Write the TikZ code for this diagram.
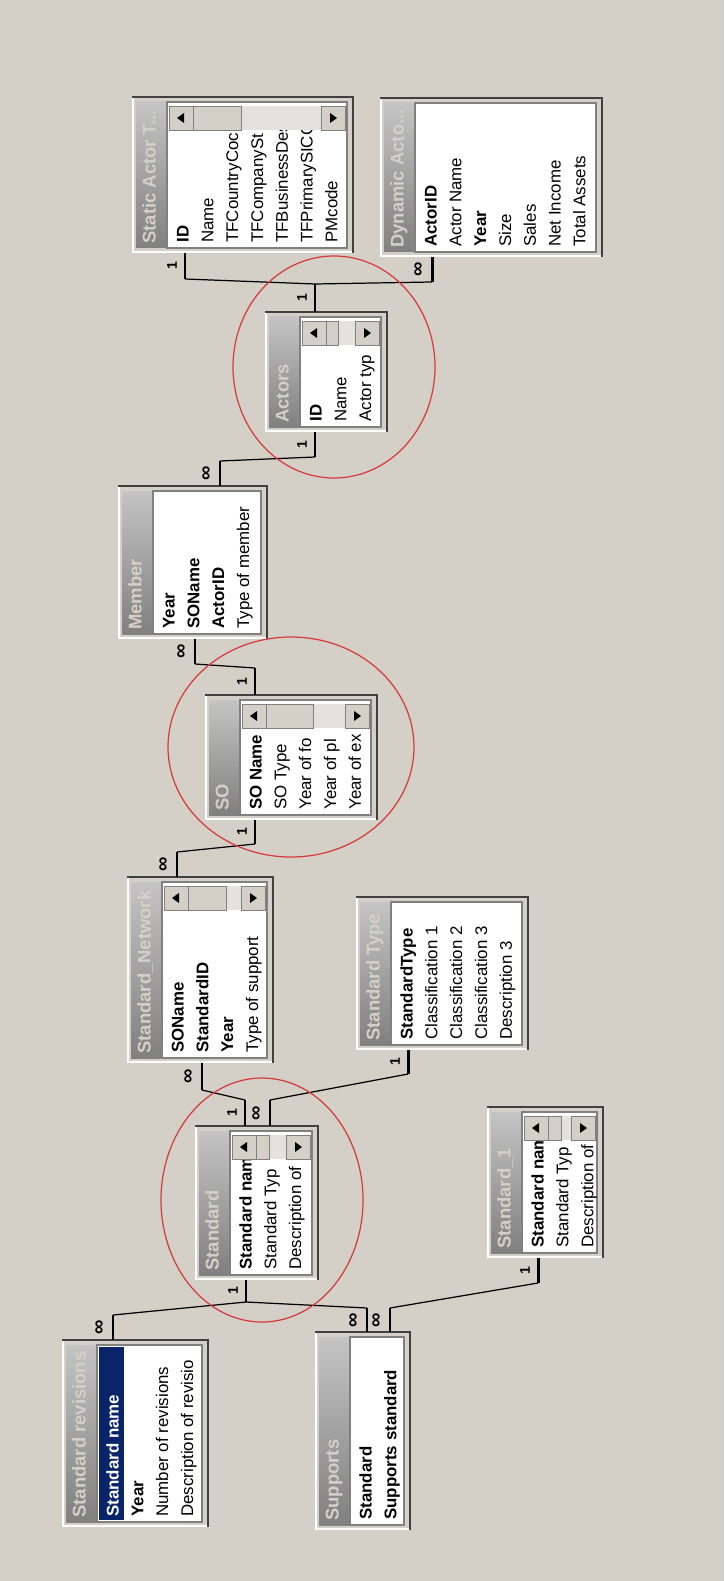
\documentclass[tikz,border=0pt]{standalone}
\usepackage{fontspec}
\setmainfont{Liberation Sans}
\usetikzlibrary{calc,fit}

\definecolor{winbg}{HTML}{D4D0C8}
\definecolor{windark}{HTML}{404040}
\definecolor{wingray}{HTML}{808080}
\definecolor{ttllo}{HTML}{808080}
\definecolor{ttlhi}{HTML}{C4C4C4}
\definecolor{selnavy}{HTML}{0A246A}
\definecolor{markred}{HTML}{D83A3A}
\definecolor{sbtrack}{HTML}{E4E2DC}

\newcommand\infsym{{\fontsize{11.5}{11.5}\selectfont ∞}}

\newcommand\dbtable[6]{%
  \node (#1) [tblbox, fit={(#2,#3) (#4,#5)}] {};
  \draw[boxlite] ($(#1.north west)+(1,1)$) -- ($(#1.south west)+(1,-1)$) -- ($(#1.south east)+(-1,-1)$);
  \draw[boxdark] (#1.south east) -- (#1.north east) -- (#1.north west);
  \begin{scope}
    \clip ($(#1.north west)+(4,5)$) rectangle ($(#1.south west)+(34,-5)$);
    \shade[ttlbar] ($(#1.north west)+(4,5)$) rectangle ($(#1.south west)+(34,-5)$);
    \node (#1-ttl) [ttltxt] at ($(#1.south west)+(19,-9)$) {#6};
  \end{scope}
  \draw[lstarea] ($(#1.north west)+(35,5)$) rectangle ($(#1.south east)+(-6,-5)$);
}

\newcommand\dbfields[3]{%
  \begin{scope}
    \clip ($(#1.north west)+(35,#2)$) rectangle ($(#1.south east)+(-6,-5)$);
    \foreach \fld [count=\cnt from 0] in {#3}
      \node (#1-f\cnt) [fldtxt] at ($(#1.south west)+(52+24.8*\cnt,-10)$) {\fld};
  \end{scope}}

\newcommand\dbscroll[2]{%
  \coordinate (#1-sa) at ($(#1.north west)+(37,9)$);
  \coordinate (#1-sb) at ($(#1.north east)+(-8,33)$);
  \fill[sbtrack] (#1-sa) rectangle (#1-sb);
  \draw[sbbtn] (#1-sa) rectangle ++(24,24);
  \draw[sbbtn] ($(#1-sa)+(24,0)$) rectangle ++(#2,24);
  \draw[sbbtn] ($(#1-sb)+(-24,-24)$) rectangle (#1-sb);
  \fill ($(#1-sa)+(8,12)$) -- ++(7,-5) -- ++(0,10) -- cycle;
  \fill ($(#1-sb)+(-8,-12)$) -- ++(-7,-5) -- ++(0,10) -- cycle;
}

\newcommand\relend[5]{%
  \coordinate (#1) at (#2,#3);
  \draw[stubln] (#1) -- ++(0,#4) coordinate (#1-e);
  \node (#1-l) [cardl] at ($(#1)!0.5!(#1-e)+(-13,0)$) {#5};}

\begin{document}
\begin{tikzpicture}[x=0.02cm,y=-0.02cm,
  tblbox/.style={fill=winbg,inner sep=0pt,outer sep=0pt},
  boxdark/.style={draw=windark,line width=1.1pt},
  boxlite/.style={draw=white,line width=0.8pt},
  ttlbar/.style={bottom color=ttllo,top color=ttlhi},
  ttltxt/.style={rotate=90,anchor=mid west,inner sep=0pt,text=winbg,font=\bfseries\fontsize{10.5}{12}\selectfont},
  lstarea/.style={fill=white,draw=wingray,line width=0.6pt},
  fldtxt/.style={rotate=90,anchor=mid west,inner sep=0pt,font=\fontsize{9.6}{11}\selectfont},
  sbbtn/.style={fill=winbg,draw=wingray,line width=0.5pt},
  stubln/.style={line width=1.7pt},
  relline/.style={line width=0.7pt},
  cardl/.style={rotate=90,inner sep=0pt,font=\bfseries\fontsize{8}{8}\selectfont},
  hilite/.style={draw=markred,line width=0.7pt}]

\fill[winbg] (0,0) rectangle (724,1581);
\useasboundingbox (0,0) rectangle (724,1581);

\dbtable{sat}{132}{97}{353}{253}{Static Actor T...}
\dbscroll{sat}{48}
\dbfields{sat}{34}{\textbf{ID}, Name, TFCountryCoc, TFCompanySt, TFBusinessDes, TFPrimarySICC, PMcode}

\dbtable{dyn}{380}{98}{602}{257}{Dynamic Acto...}
\dbfields{dyn}{5}{\textbf{ActorID}, Actor Name, \textbf{Year}, Size, Sales, Net Income, Total Assets}

\dbtable{act}{265}{312}{387}{432}{Actors}
\dbscroll{act}{12}
\dbfields{act}{34}{\textbf{ID}, Name, Actor typ}

\dbtable{mem}{118}{486}{267}{639}{Member}
\dbfields{mem}{5}{\textbf{Year}, \textbf{SOName}, \textbf{ActorID}, Type of member}

\dbtable{so}{205}{695}{377}{820}{SO}
\dbscroll{so}{47}
\dbfields{so}{34}{\textbf{SO Name}, SO Type, Year of fo, Year of pl, Year of ex}

\dbtable{net}{127}{877}{273}{1063}{Standard\_Network}
\dbscroll{net}{38}
\dbfields{net}{34}{\textbf{SOName}, \textbf{StandardID}, \textbf{Year}, Type of support}

\dbtable{typ}{356}{897}{528}{1050}{Standard Type}
\dbfields{typ}{5}{\textbf{StandardType}, Classification 1, Classification 2, Classification 3, Description 3}

\dbtable{std}{195}{1126}{318}{1280}{Standard}
\dbscroll{std}{13}
\dbfields{std}{34}{\textbf{Standard nam}, Standard Typ, Description of}

\dbtable{sto}{487}{1107}{603}{1258}{Standard\_1}
\dbscroll{sto}{13}
\dbfields{sto}{34}{\textbf{Standard nam}, Standard Typ, Description of}

\dbtable{rev}{62}{1340}{208}{1527}{Standard revisions}
\fill[selnavy] ($(rev.north west)+(37,7)$) rectangle ($(rev.south west)+(62,-7)$);
\dbfields{rev}{5}{\textcolor{white}{\textbf{Standard name}}, \textbf{Year}, Number of revisions, Description of revisio}

\dbtable{sup}{315}{1332}{410}{1530}{Supports}
\dbfields{sup}{5}{\textbf{Standard}, \textbf{Supports standard}}

\relend{satid}{185}{253}{26}{1}
\relend{actt}{315}{312}{-28}{1}
\relend{dynid}{432}{257}{25}{\infsym}
\relend{actb}{315}{432}{25}{1}
\relend{memact}{220}{486}{-25}{\infsym}
\relend{memso}{195}{639}{25}{\infsym}
\relend{sot}{255}{695}{-27}{1}
\relend{sob}{255}{820}{24}{1}
\relend{netso}{177}{877}{-25}{\infsym}
\relend{netstd}{202}{1063}{27}{\infsym}
\relend{stdta}{245}{1126}{-26}{1}
\relend{stdtb}{270}{1126}{-26}{\infsym}
\relend{typb}{408}{1050}{24}{1}
\relend{stdb}{246}{1280}{22}{1}
\relend{revt}{113}{1340}{-25}{\infsym}
\relend{supta}{367}{1332}{-24}{\infsym}
\relend{suptb}{390}{1332}{-24}{\infsym}
\relend{stob}{538}{1258}{25}{1}

\draw[relline] (satid-e) -- (actt-e);
\draw[relline] (dynid-e) -- (actt-e);
\draw[relline] (actb-e) -- (memact-e);
\draw[relline] (memso-e) -- (sot-e);
\draw[relline] (sob-e) -- (netso-e);
\draw[relline] (netstd-e) -- (stdta-e);
\draw[relline] (stdtb-e) -- (typb-e);
\draw[relline] (stdb-e) -- (revt-e);
\draw[relline] (stdb-e) -- (supta-e);
\draw[relline] (suptb-e) -- (stob-e);

\draw[hilite] (334,367) ellipse [x radius=101, y radius=111];
\draw[hilite] (291,747) ellipse [x radius=123, y radius=110];
\draw[hilite] (262,1200) ellipse [x radius=101, y radius=122];
\end{tikzpicture}
\end{document}
